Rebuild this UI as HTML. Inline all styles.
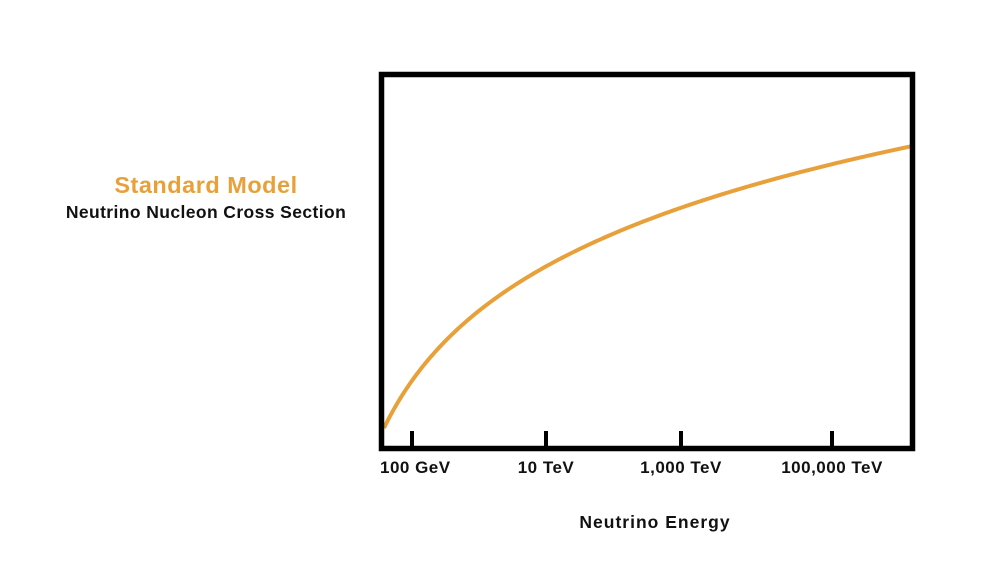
<!DOCTYPE html>
<html><head><style>
body{margin:0;background:#fff;}
svg{display:block;}
text{font-family:"Liberation Sans",sans-serif;font-weight:bold;}
</style></head><body>
<svg width="1000" height="561" viewBox="0 0 1000 561">
<rect width="1000" height="561" fill="#fff"/>
<path id="curve" d="" fill="none" stroke="#E8A03A" stroke-width="4"/>
<rect x="381.5" y="74.5" width="531" height="374" fill="none" stroke="#000" stroke-width="5.5"/>
<g stroke="#000" stroke-width="4">
<line x1="412" y1="431" x2="412" y2="446"/>
<line x1="546" y1="431" x2="546" y2="446"/>
<line x1="681" y1="431" x2="681" y2="446"/>
<line x1="832" y1="431" x2="832" y2="446"/>
</g>
<g font-size="17" fill="#111" letter-spacing="0.5">
<text x="380" y="473">100 GeV</text>
<text x="546" y="473" text-anchor="middle">10 TeV</text>
<text x="681" y="473" text-anchor="middle">1,000 TeV</text>
<text x="832" y="473" text-anchor="middle">100,000 TeV</text>
<text x="655" y="528" text-anchor="middle" font-size="17.5" letter-spacing="1">Neutrino Energy</text>
</g>
<text x="206" y="193" font-size="23.5" fill="#E8A03A" text-anchor="middle" letter-spacing="0.5">Standard Model</text>
<text x="206" y="218" font-size="17.5" fill="#111" text-anchor="middle" letter-spacing="0.4">Neutrino Nucleon Cross Section</text>
</svg>
<script>
var d="";
for(var x=384;x<=913;x+=2){var dx=x-384;var y=428-123.5*Math.log(1+dx/60);d+=(x==384?"M":"L")+x+","+y.toFixed(2);}
document.getElementById("curve").setAttribute("d",d);
</script>
</body></html>
